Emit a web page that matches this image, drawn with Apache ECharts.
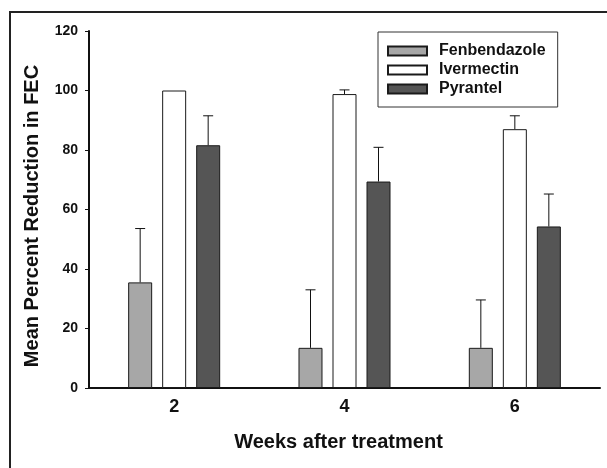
<!DOCTYPE html>
<html>
<head>
<meta charset="utf-8">
<script src="https://cdn.jsdelivr.net/npm/echarts@6/dist/echarts.min.js"></script>
<style>
  html, body { margin: 0; padding: 0; background: #fff; }
  #frame { position: absolute; left: 9px; top: 11px; width: 620px; height: 480px;
           border-left: 2px solid #222; border-top: 2px solid #222; }
  #chart { position: absolute; left: 0; top: 0; width: 607px; height: 468px; }
</style>
</head>
<body>
<div id="frame"></div>
<div id="chart"></div>
<script>
const categories = ['2', '4', '6'];
const seriesNames = ['Fenbendazole', 'Ivermectin', 'Pyrantel'];
const fenbendazole = [35.5, 13.5, 13.5];
const ivermectin = [100, 98.8, 87.0];
const pyrantel = [81.6, 69.4, 54.3];
const fenbendazoleSD = [18.1, 19.5, 16.1];
const ivermectinSD = [0, 1.4, 4.5];
const pyrantelSD = [9.9, 11.5, 10.9];
const yTicks = [0, 20, 40, 60, 80, 100, 120];

const FONT = '"Liberation Sans", Arial, Helvetica, sans-serif';
const BAR_W = 24, BAR_GAP = 10, CAP = 10;

const means = [fenbendazole, ivermectin, pyrantel];
const sds = [fenbendazoleSD, ivermectinSD, pyrantelSD];
const fills = ['#a7a7a7', '#ffffff', '#555555'];

function errSeries(k) {
  const offset = (k - 1) * (BAR_W + BAR_GAP);
  return {
    type: 'custom',
    name: seriesNames[k] + ' SD',
    z: 5,
    silent: true,
    data: categories.map((c, i) => [i, means[k][i], sds[k][i]]),
    renderItem: function (params, api) {
      const i = api.value(0), m = api.value(1), s = api.value(2);
      if (!(s > 0)) return null;
      const base = api.coord([i, m]);
      const top = api.coord([i, m + s]);
      const x = base[0] + offset;
      const st = { stroke: '#111', lineWidth: 1 };
      return {
        type: 'group',
        children: [
          { type: 'line', shape: { x1: x, y1: base[1], x2: x, y2: top[1] }, style: st },
          { type: 'line', shape: { x1: x - CAP / 2, y1: top[1], x2: x + CAP / 2, y2: top[1] }, style: st }
        ]
      };
    }
  };
}

const chart = echarts.init(document.getElementById('chart'), null, { renderer: 'canvas' });
chart.setOption({
  animation: false,
  backgroundColor: 'transparent',
  textStyle: { fontFamily: FONT },
  grid: { left: 89, right: 7, top: 31, bottom: 80, containLabel: false },
  legend: {
    orient: 'vertical',
    left: 378,
    top: 32,
    data: seriesNames,
    icon: 'rect',
    itemWidth: 39,
    itemHeight: 9,
    itemGap: 3,
    padding: [11, 12, 10, 9],
    borderColor: '#333',
    borderWidth: 1,
    backgroundColor: '#fff',
    selectedMode: false,
    textStyle: { fontFamily: FONT, fontWeight: 'bold', fontSize: 16, lineHeight: 16, color: '#111', padding: [0, 0, 0, 7] }
  },
  xAxis: {
    type: 'category',
    data: categories,
    name: 'Weeks after treatment',
    nameLocation: 'middle',
    nameGap: 44,
    nameTextStyle: { fontFamily: FONT, fontWeight: 'bold', fontSize: 20, color: '#111', padding: [0, 12, 0, 0] },
    axisLine: { lineStyle: { color: '#111', width: 2 } },
    axisTick: { alignWithLabel: true, length: 4, lineStyle: { color: '#111', width: 1 } },
    axisLabel: { fontFamily: FONT, fontWeight: 'bold', fontSize: 18, color: '#111', margin: 10 },
    splitLine: { show: false }
  },
  yAxis: {
    type: 'value',
    min: yTicks[0],
    max: yTicks[yTicks.length - 1],
    interval: yTicks[1] - yTicks[0],
    name: 'Mean Percent Reduction in FEC',
    nameLocation: 'middle',
    nameRotate: 90,
    nameGap: 47,
    nameTextStyle: { fontFamily: FONT, fontWeight: 'bold', fontSize: 20, color: '#111', padding: [0, 13, 0, 0] },
    axisLine: { show: true, lineStyle: { color: '#111', width: 2 } },
    axisTick: { show: true, length: 4, lineStyle: { color: '#111', width: 1 } },
    axisLabel: { fontFamily: FONT, fontWeight: 'bold', fontSize: 14, color: '#111', margin: 11 },
    splitLine: { show: false }
  },
  series: [
    ...seriesNames.map((n, k) => ({
      type: 'bar',
      name: n,
      data: means[k],
      barWidth: BAR_W,
      barGap: (BAR_GAP / BAR_W * 100).toFixed(1) + '%',
      itemStyle: { color: fills[k], borderColor: '#1a1a1a', borderWidth: 1 },
      emphasis: { disabled: true }
    })),
    errSeries(0), errSeries(1), errSeries(2)
  ]
});
</script>
</body>
</html>
